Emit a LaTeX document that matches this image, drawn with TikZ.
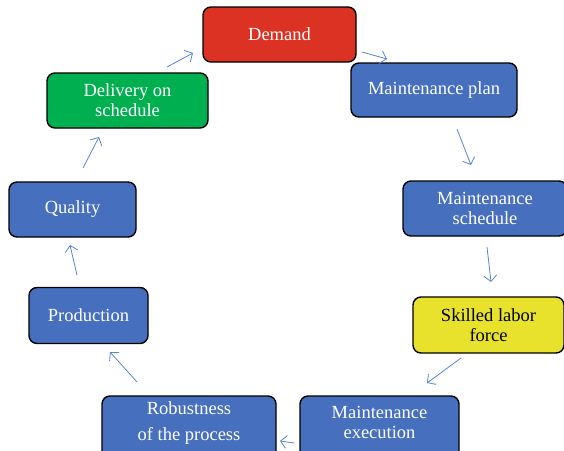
\documentclass[tikz,border=0pt]{standalone}
\usepackage{fontspec}
\setmainfont{Liberation Serif}
\usetikzlibrary{arrows.meta}
\definecolor{cred}{HTML}{DC3223}
\definecolor{cgreen}{HTML}{00B050}
\definecolor{cblue}{HTML}{4670BE}
\definecolor{cyellow}{HTML}{E8E22D}
\definecolor{carrow}{HTML}{5A84D4}
\tikzset{
  box/.style={draw=black, line width=1.4pt, rounded corners=8pt, inner sep=0pt,
    align=center, text=white, font=\fontsize{18.5}{20}\selectfont},
  boxtext/.style={inner sep=0pt, align=center, text=white, font=\fontsize{18.5}{20}\selectfont},
  flow/.style={draw=carrow, line width=0.8pt, -{Straight Barb[length=6pt,width=13pt]}}
}
\begin{document}
\begin{tikzpicture}[x=1pt,y=-1pt]
\useasboundingbox (0,0) rectangle (564,450);
\clip (0,0) rectangle (564,450);
\fill[white] (0,0) rectangle (564,450);
% boxes
\node[box, fill=cred, minimum width=153pt, minimum height=55pt] (demand) at (279.5,34.5) {Demand};
\node[box, fill=cgreen, minimum width=161pt, minimum height=55pt] (deliv) at (127.5,100.5) {Delivery on\\schedule};
\node[box, fill=cblue, minimum width=166pt, minimum height=54pt] (plan) at (434,90) {Maintenance plan};
\node[box, fill=cblue, minimum width=127pt, minimum height=55pt] (quality) at (72.5,209.5) {Quality};
\node[box, fill=cblue, minimum width=164pt, minimum height=55pt] (sched) at (485,208.5) {Maintenance\\schedule};
\node[box, fill=cblue, minimum width=119pt, minimum height=56pt] (prod) at (88.5,315.5) {Production};
\node[box, fill=cyellow, text=black, minimum width=151pt, minimum height=56pt] (skill) at (488.5,325) {Skilled labor\\force};
\node[box, fill=cblue, minimum width=174pt, minimum height=66pt] (robust) at (189,429) {};
\node[box, fill=cblue, minimum width=159pt, minimum height=66pt] (exec) at (379.5,429) {};
\node[boxtext] (robusttxt) at (189,423) {Robustness\\[6pt]of the process};
\node[boxtext] (exectxt) at (379.5,422.5) {Maintenance\\execution};
% arrow end points
\coordinate (a1s) at (167,67);  \coordinate (a1e) at (193,53);
\coordinate (a2s) at (362,52);  \coordinate (a2e) at (387,59);
\coordinate (a3s) at (457,129); \coordinate (a3e) at (471,165);
\coordinate (a4s) at (487,247); \coordinate (a4e) at (491,282);
\coordinate (a5s) at (461,358); \coordinate (a5e) at (427,383);
\coordinate (a6s) at (294,443); \coordinate (a6e) at (280,441);
\coordinate (a7s) at (137,382); \coordinate (a7e) at (110,352);
\coordinate (a8s) at (77,275);  \coordinate (a8e) at (70,245);
\coordinate (a9s) at (83,168);  \coordinate (a9e) at (99,137);
\draw[flow] (a1s) -- (a1e);
\draw[flow] (a2s) -- (a2e);
\draw[flow] (a3s) -- (a3e);
\draw[flow] (a4s) -- (a4e);
\draw[flow] (a5s) -- (a5e);
\draw[flow] (a6s) -- (a6e);
\draw[flow] (a7s) -- (a7e);
\draw[flow] (a8s) -- (a8e);
\draw[flow] (a9s) -- (a9e);
\end{tikzpicture}
\end{document}
